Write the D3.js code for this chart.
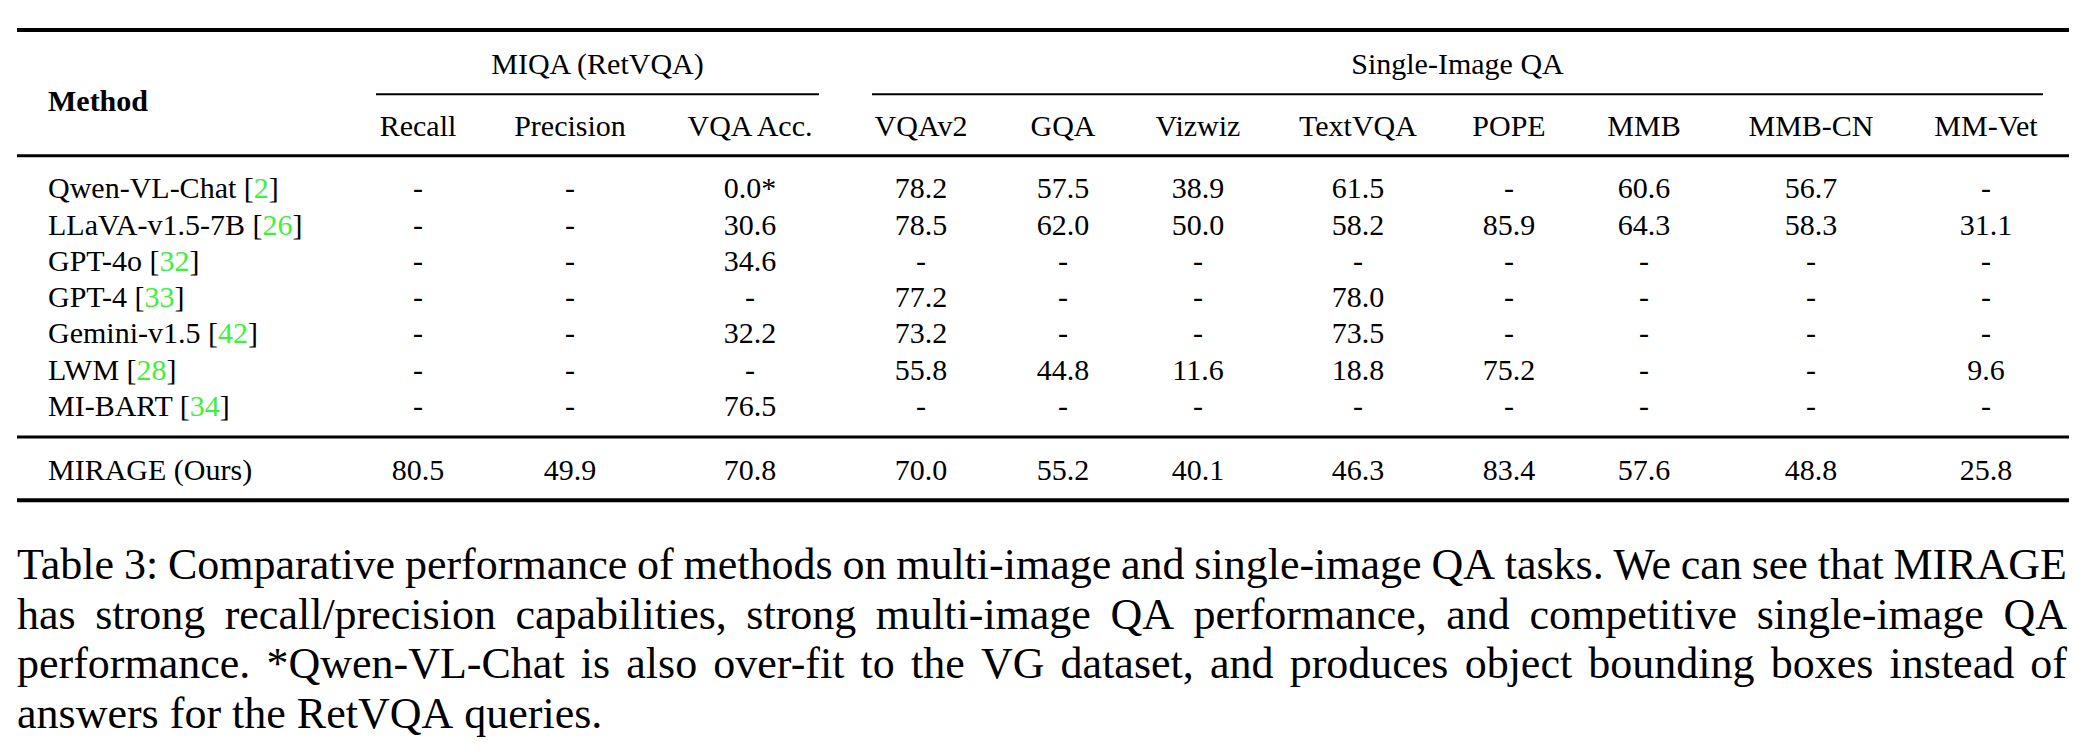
<!DOCTYPE html>
<html>
<head>
<meta charset="utf-8">
<script src="https://cdn.jsdelivr.net/npm/d3@7"></script>
<style>
  html, body { margin: 0; padding: 0; background: #fff; }
  svg { display: block; }
  text { font-family: "Liberation Serif", "Times New Roman", serif; fill: #000; }
</style>
</head>
<body>
<svg id="chart" width="2094" height="752"></svg>
<script>
// ---------- data ----------
const methods = ["Qwen-VL-Chat", "LLaVA-v1.5-7B", "GPT-4o", "GPT-4", "Gemini-v1.5", "LWM", "MI-BART", "MIRAGE (Ours)"];
const refs = ["2", "26", "32", "33", "42", "28", "34", null];
const groups = ["MIQA (RetVQA)", "Single-Image QA"];
const columns = ["Recall", "Precision", "VQA Acc.", "VQAv2", "GQA", "Vizwiz", "TextVQA", "POPE", "MMB", "MMB-CN", "MM-Vet"];

const recall    = [null, null, null, null, null, null, null, 80.5];
const precision = [null, null, null, null, null, null, null, 49.9];
const vqaAcc    = [0.0, 30.6, 34.6, null, 32.2, null, 76.5, 70.8];
const vqav2     = [78.2, 78.5, null, 77.2, 73.2, 55.8, null, 70.0];
const gqa       = [57.5, 62.0, null, null, null, 44.8, null, 55.2];
const vizwiz    = [38.9, 50.0, null, null, null, 11.6, null, 40.1];
const textvqa   = [61.5, 58.2, null, 78.0, 73.5, 18.8, null, 46.3];
const pope      = [null, 85.9, null, null, null, 75.2, null, 83.4];
const mmb       = [60.6, 64.3, null, null, null, null, null, 57.6];
const mmbcn     = [56.7, 58.3, null, null, null, null, null, 48.8];
const mmvet     = [null, 31.1, null, null, null, 9.6, null, 25.8];
const starredCells = [[0, 2]]; // [row, column] -> footnote "*"

const captionLines = [
  "Table 3: Comparative performance of methods on multi-image and single-image QA tasks. We can see that MIRAGE",
  "has strong recall/precision capabilities, strong multi-image QA performance, and competitive single-image QA",
  "performance. *Qwen-VL-Chat is also over-fit to the VG dataset, and produces object bounding boxes instead of",
  "answers for the RetVQA queries."
];

const series = [recall, precision, vqaAcc, vqav2, gqa, vizwiz, textvqa, pope, mmb, mmbcn, mmvet];

// ---------- layout ----------
const W = 2094, H = 752;
const tableFont = 30, captionFont = 44;
const citeColor = "#3df03d";
const left = 17, right = 2069;

const svg = d3.select("#chart");
svg.append("rect").attr("width", W).attr("height", H).attr("fill", "#fff");

const x = d3.scaleOrdinal()
  .domain(columns)
  .range([418, 570, 750, 921, 1063, 1198, 1358, 1509, 1644, 1811, 1986]);

const yRow = d3.scaleLinear().domain([0, 6]).range([198.3, 416]);
const rowY = i => (i < 7 ? yRow(i) : 480);

const fmt = d3.format(".1f");

// rules
function rule(x1, x2, y, w) {
  svg.append("line").attr("x1", x1).attr("x2", x2).attr("y1", y).attr("y2", y)
    .attr("stroke", "#000").attr("stroke-width", w);
}
rule(left, right, 30, 4);
rule(left, right, 155.7, 3);
rule(left, right, 437, 3);
rule(left, right, 500.3, 4);

// cmidrules per group
const groupSpans = [[376, 819], [872, 2043]];
groupSpans.forEach(s => rule(s[0], s[1], 94.2, 2));

// group headers
svg.selectAll("text.group").data(groups).join("text")
  .attr("class", "group")
  .attr("x", (d, i) => (groupSpans[i][0] + groupSpans[i][1]) / 2)
  .attr("y", 74)
  .attr("text-anchor", "middle")
  .attr("font-size", tableFont)
  .text(d => d);

// Method header
svg.append("text").attr("x", 48).attr("y", 110.7)
  .attr("font-size", tableFont).attr("font-weight", "bold").text("Method");

// column headers
svg.selectAll("text.colhead").data(columns).join("text")
  .attr("class", "colhead")
  .attr("x", d => x(d)).attr("y", 136)
  .attr("text-anchor", "middle")
  .attr("font-size", tableFont)
  .text(d => d);

// method names
const mt = svg.selectAll("text.method").data(methods).join("text")
  .attr("class", "method")
  .attr("x", 48).attr("y", (d, i) => rowY(i))
  .attr("font-size", tableFont);
mt.each(function(d, i) {
  const t = d3.select(this);
  if (refs[i]) {
    t.append("tspan").text(d + " [");
    t.append("tspan").attr("fill", citeColor).style("fill", citeColor).text(refs[i]);
    t.append("tspan").text("]");
  } else {
    t.text(d);
  }
});

// cells
const cells = [];
series.forEach((vals, c) => {
  vals.forEach((v, r) => {
    const star = starredCells.some(s => s[0] === r && s[1] === c);
    cells.push({ r, c, label: v == null ? "-" : fmt(v) + (star ? "*" : "") });
  });
});
svg.selectAll("text.cell").data(cells).join("text")
  .attr("class", "cell")
  .attr("x", d => x(columns[d.c]))
  .attr("y", d => rowY(d.r))
  .attr("text-anchor", "middle")
  .attr("font-size", tableFont)
  .text(d => d.label);

// caption (justified)
const capLeft = 17, capRight = 2067;
const capY = d3.scaleLinear().domain([0, 3]).range([579, 727.5]);
captionLines.forEach((line, li) => {
  const words = line.split(/\s+/);
  const t = svg.append("text").attr("y", capY(li)).attr("font-size", captionFont);
  const spans = words.map(w => t.append("tspan").text(w));
  const widths = spans.map(s => s.node().getComputedTextLength());
  const total = d3.sum(widths);
  const justify = li < captionLines.length - 1;
  const gap = justify ? (capRight - capLeft - total) / (words.length - 1) : captionFont * 0.25;
  let cx = capLeft;
  spans.forEach((s, k) => { s.attr("x", cx); cx += widths[k] + gap; });
});
</script>
</body>
</html>
